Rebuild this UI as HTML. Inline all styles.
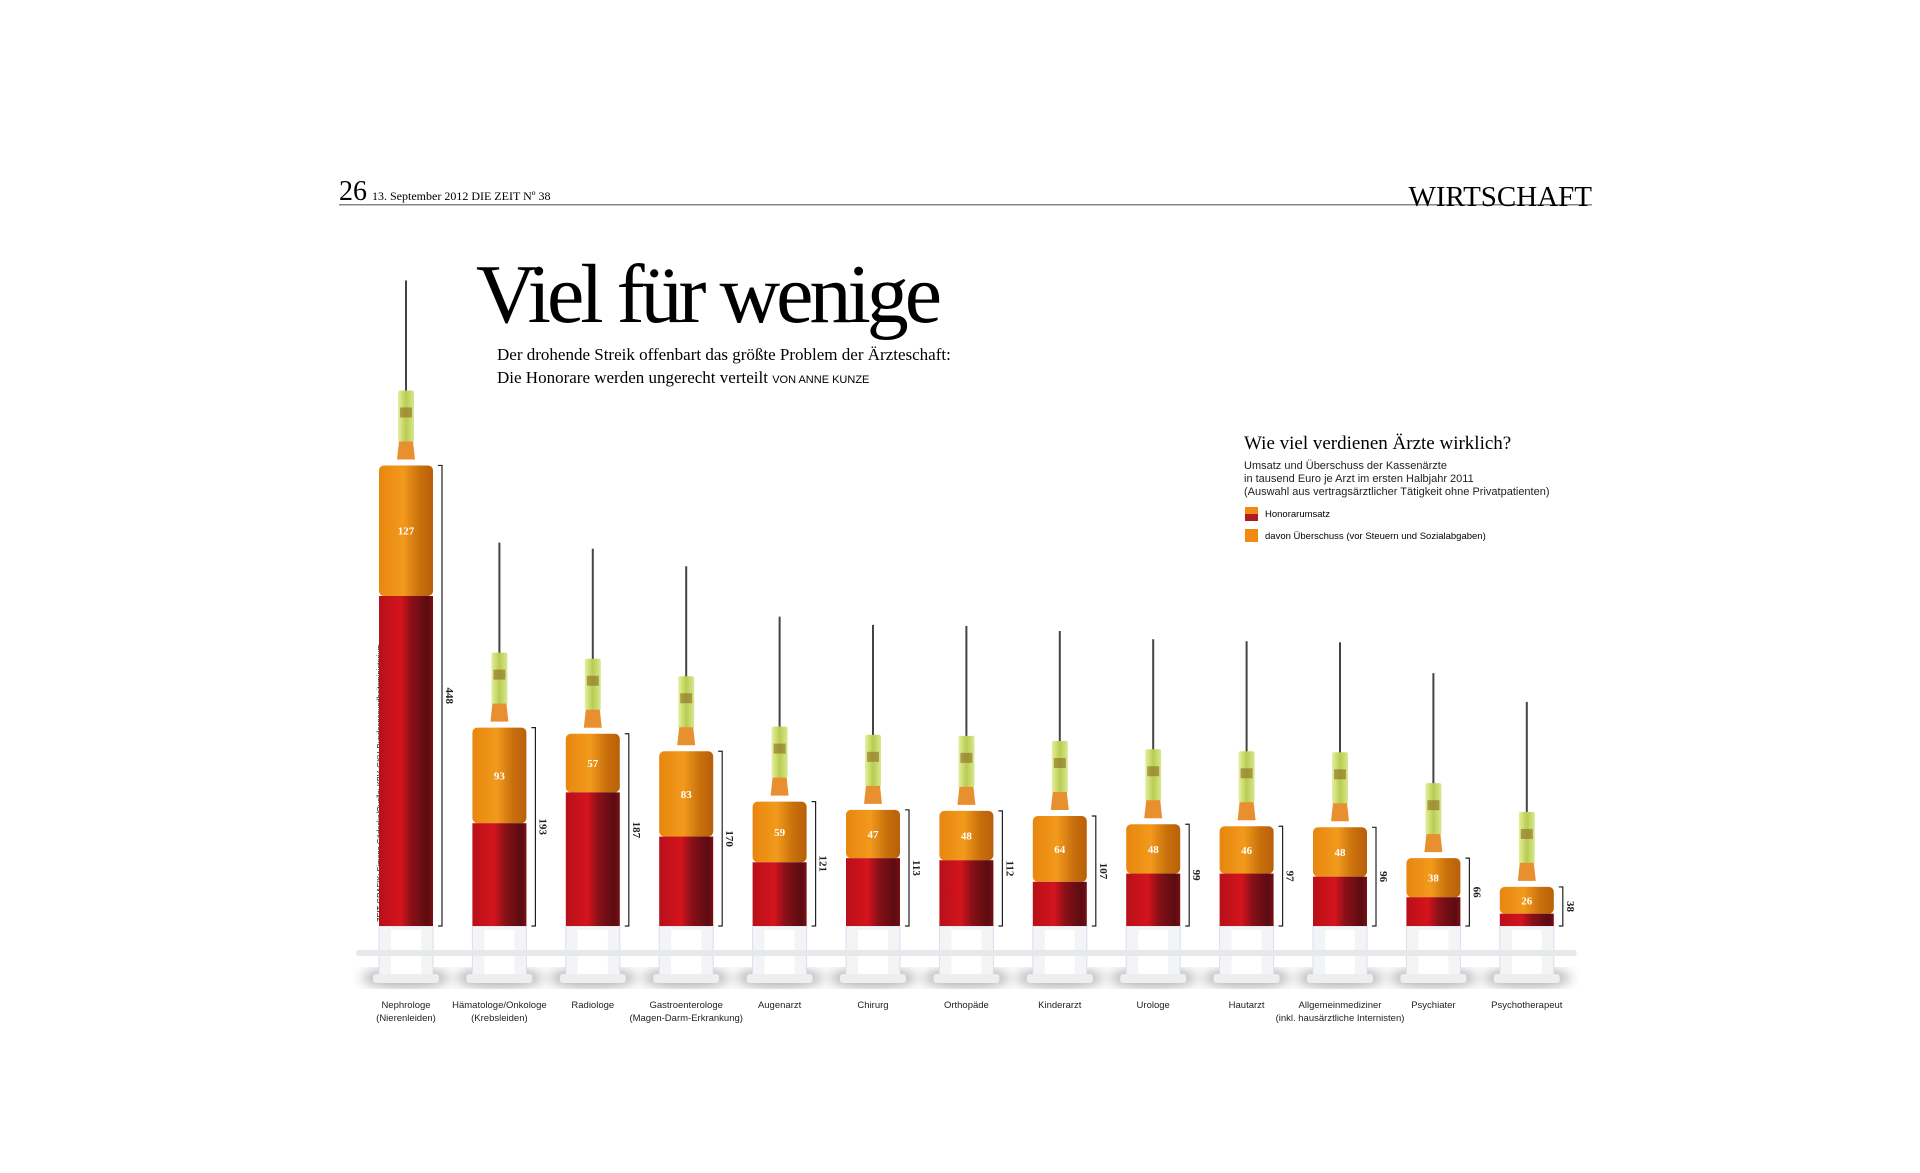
<!DOCTYPE html>
<html><head><meta charset="utf-8"><style>
html,body{margin:0;padding:0;background:#fff;width:1920px;height:1173px;overflow:hidden}
svg text{font-family:"Liberation Serif",serif}
</style></head><body>
<svg width="1920" height="1173" viewBox="0 0 1920 1173" xmlns="http://www.w3.org/2000/svg">
<defs>
<linearGradient id="gOr" x1="0" x2="1" y1="0" y2="0"><stop offset="0" stop-color="#e8860f"/><stop offset="0.45" stop-color="#f29a1c"/><stop offset="0.75" stop-color="#c8700c"/><stop offset="1" stop-color="#b9600a"/></linearGradient>
<linearGradient id="gRd" x1="0" x2="1" y1="0" y2="0"><stop offset="0" stop-color="#b8101a"/><stop offset="0.4" stop-color="#d4141c"/><stop offset="0.6" stop-color="#8a1018"/><stop offset="0.9" stop-color="#5a0c12"/><stop offset="1" stop-color="#7a0e14"/></linearGradient>
<linearGradient id="gGr" x1="0" x2="1"><stop offset="0" stop-color="#e6f0a0"/><stop offset="0.5" stop-color="#b8cc50"/><stop offset="1" stop-color="#d8e890"/></linearGradient>
<filter id="blur"><feGaussianBlur stdDeviation="6"/></filter>
</defs>
<text x="339" y="200" font-size="28">26</text>
<text x="372" y="200" font-size="12">13. September 2012   DIE ZEIT  Nº 38</text>
<rect x="339" y="204" width="1253" height="1.5" fill="#888"/>
<text x="1592" y="206" font-size="29" text-anchor="end">WIRTSCHAFT</text>
<text x="476" y="322" font-size="84" letter-spacing="-4">Viel für wenige</text>
<text x="497" y="360" font-size="17">Der drohende Streik offenbart das größte Problem der Ärzteschaft:</text>
<text x="497" y="383" font-size="17">Die Honorare werden ungerecht verteilt <tspan font-family="Liberation Sans" font-size="11">  VON ANNE KUNZE</tspan></text>
<text x="1244" y="449" font-size="19">Wie viel verdienen Ärzte wirklich?</text>
<g font-size="11" fill="#222">
<text x="1244" y="469" style="font-family:'Liberation Sans',sans-serif">Umsatz und Überschuss der Kassenärzte</text>
<text x="1244" y="482" style="font-family:'Liberation Sans',sans-serif">in tausend Euro je Arzt im ersten Halbjahr 2011</text>
<text x="1244" y="495" style="font-family:'Liberation Sans',sans-serif">(Auswahl aus vertragsärztlicher Tätigkeit ohne Privatpatienten)</text>
</g>
<g>
<rect x="1245" y="507" width="13" height="7" fill="#f08a10"/><rect x="1245" y="514" width="13" height="7" fill="#b01a24"/>
<text x="1265" y="517" font-size="9.5" style="font-family:'Liberation Sans',sans-serif">Honorarumsatz</text></g>
<g>
<rect x="1245" y="529" width="13" height="13" fill="#f08a10"/>
<text x="1265" y="539" font-size="9.5" style="font-family:'Liberation Sans',sans-serif">davon Überschuss (vor Steuern und Sozialabgaben)</text></g>
<text transform="translate(382,922) rotate(-90)" font-size="7.5" style="font-family:'Liberation Sans',sans-serif">ZEIT-GRAFIK: Simone Gödecke/Quelle: KBV, GKV, Bundesgesundheitsministerium</text>
<g id="chart"></g>
</svg>
<script>
const categories=["Nephrologe|(Nierenleiden)","Hämatologe/Onkologe|(Krebsleiden)","Radiologe","Gastroenterologe|(Magen-Darm-Erkrankung)","Augenarzt","Chirurg","Orthopäde","Kinderarzt","Urologe","Hautarzt","Allgemeinmediziner|(inkl. hausärztliche Internisten)","Psychiater","Psychotherapeut"];
const totals=[448,193,187,170,121,113,112,107,99,97,96,66,38];
const surplus=[127,93,57,83,59,47,48,64,48,46,48,38,26];
const NS="http://www.w3.org/2000/svg";
const g=document.getElementById('chart');
const base=926, unit=1.028;
const y=v=>base-v*unit;
const cx=i=>406+i*93.4;
function mk(tag,attrs,parent){const e=document.createElementNS(NS,tag);for(const k in attrs)e.setAttribute(k,attrs[k]);(parent||g).appendChild(e);return e;}
totals.forEach((t,i)=>{
 const c=cx(i),w=54,top=y(t),mid=y(t-surplus[i]);
 const s=mk('g',{});
 
 
 mk('ellipse',{cx:c,cy:978,rx:44,ry:9,fill:'#999',filter:'url(#blur)',opacity:0.8},s);
 mk('rect',{x:c-w/2,y:base,width:w,height:52,fill:'#f2f4f6',stroke:'#dde',"stroke-width":1},s);
 mk('rect',{x:c-15,y:base+4,width:30,height:48,fill:'#fff'},s);
 mk('rect',{x:c-50,y:950,width:100,height:6,rx:3,fill:'#e6e8ea'},s);
 mk('rect',{x:c-33,y:974,width:66,height:9,rx:3,fill:'#eceef0'},s);
 mk('line',{x1:c,y1:top-185,x2:c,y2:top-70,stroke:'#444',"stroke-width":2},s);
 mk('rect',{x:c-8,y:top-75,width:16,height:52,rx:2,fill:'url(#gGr)'},s);
 mk('rect',{x:c-6,y:top-58,width:12,height:10,fill:'#8a6a20',opacity:0.6},s);
 mk('path',{d:`M${c-7},${top-24} L${c+7},${top-24} L${c+9},${top-6} L${c-9},${top-6}Z`,fill:'#e89030'},s);
 mk('rect',{x:c-w/2,y:top,width:w,height:mid-top,rx:5,fill:'url(#gOr)'},s);
 mk('rect',{x:c-w/2,y:mid,width:w,height:base-mid,fill:'url(#gRd)'},s);
 const vl=mk('text',{x:c,y:(top+mid)/2+4,"text-anchor":'middle',"font-size":11,"font-weight":'bold',fill:'#fff'},s);
 
 
 vl.textContent=surplus[i];
 const bx=c+w/2+5;
 const br=mk('path',{d:`M${bx},${top} H${bx+4} V${base} H${bx}`,fill:'none',stroke:'#222',"stroke-width":1.2},s);
 
 
 const tl=mk('text',{transform:`translate(${bx+8},${(top+base)/2}) rotate(90)`,"text-anchor":'middle',"font-size":11,"font-weight":'bold',fill:'#222'},s);
 
 
 tl.textContent=t;
 categories[i].split('|').forEach((ln,j)=>{
  const cl=mk('text',{x:c,y:1008+j*13,"text-anchor":'middle',"font-size":9.5,style:"font-family:'Liberation Sans',sans-serif",fill:'#222'},s);
  
  
  cl.textContent=ln;
 });
});
</script>
</body></html>
